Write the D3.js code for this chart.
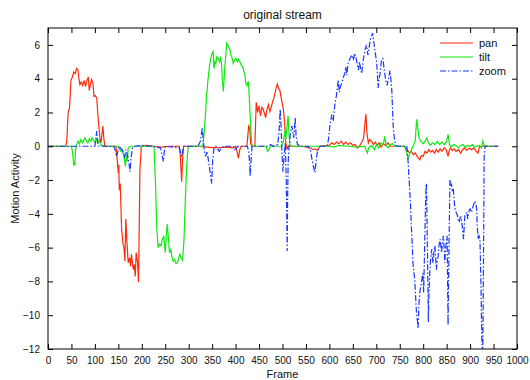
<!DOCTYPE html>
<html>
<head>
<meta charset="utf-8">
<script src="https://cdn.jsdelivr.net/npm/d3@7"></script>
<style>
  body { margin: 0; background: #fff; }
  text { font-family: "Liberation Sans", Arial, Helvetica, sans-serif; fill: #111; }
</style>
</head>
<body>
<div id="chart"></div>
<script>
// [frame, value] pairs
const pan = [
  [0,0],[38,0],[40,0.3],[43,2.0],[46,2.3],[49,3.9],[52,4.1],[55,4.4],[58,4.3],[61,4.6],[64,4.5],[66,4.0],
  [68,3.65],[71,3.8],[74,3.6],[77,3.9],[80,3.55],[83,3.9],[86,4.1],[88,3.3],[90,3.6],[93,3.95],[96,3.7],
  [98,2.95],[101,3.0],[104,2.85],[106,2.0],[108,1.3],[111,0.4],[113,0.2],[115,0.7],[117,1.2],[119,0.5],
  [121,0],[145,0],[147,-0.6],[150,-1.6],[151,-1.1],[152,-2.6],[154,-2.2],[157,-4.9],[160,-5.8],[162,-6.0],[164,-6.8],
  [166,-4.3],[168,-5.5],[171,-6.9],[174,-6.6],[176,-7.1],[178,-6.4],[180,-6.9],[182,-7.3],[184,-7.0],
  [186,-7.7],[188,-6.3],[191,-6.9],[193,-8.05],[196,-1.4],[199,0],[210,0.05],[225,0],[240,-0.05],[260,0],
  [280,0],[282,-0.5],[285,-2.1],[287,-0.8],[289,0],[320,0],[340,-0.05],[360,-0.1],[380,-0.05],[395,-0.1],
  [400,0],[403,-0.3],[406,-0.7],[409,-0.2],[412,0],[424,0],[426,0.6],[428,1.2],[430,1.1],[432,0.2],[434,0],
  [441,0],[444,2.6],[447,2.0],[450,2.4],[453,1.8],[456,2.3],[459,2.17],[462,1.9],[464,1.7],[467,2.2],[470,2.46],[473,2.05],[476,2.3],
  [479,2.66],[481,2.8],[484,3.15],[487,3.5],[489,3.68],[492,3.4],[494,3.35],[496,3.05],[499,2.6],[502,2.17],
  [505,1.18],[507,0.2],[510,-0.2],[512,0],[540,0],[560,-0.1],[565,-0.2],[570,-0.15],[575,-0.25],[580,0],
  [600,0.05],[605,0.2],[610,0.1],[615,0.25],[620,0.15],[625,0.3],[630,0.1],[635,0.25],[640,0.1],[645,0.2],
  [650,0.05],[655,0.1],[660,-0.1],[665,0.05],[670,0.3],[673,0.5],[676,1.4],[678,1.9],[680,0.8],[683,0.2],
  [686,0.4],[690,0.3],[694,0.1],[698,0.25],[702,0.05],[706,0.2],[710,-0.05],[715,0.15],[720,0.05],
  [725,0.2],[730,0],[760,0],[766,-0.2],[771,-0.4],[775,-0.3],[779,-0.5],[783,-0.4],[787,-0.6],[790,-0.7],
  [793,-0.8],[796,-0.55],[800,-0.6],[804,-0.3],[808,-0.4],[812,-0.2],[816,-0.35],[820,-0.25],[824,-0.4],
  [828,-0.2],[832,-0.35],[836,-0.15],[840,-0.3],[845,-0.1],[849,-0.2],[853,-0.6],[855,-0.3],[858,-0.1],
  [862,-0.25],[866,-0.15],[870,-0.3],[875,-0.2],[880,-0.4],[884,-0.2],[888,-0.1],[893,-0.25],[898,-0.1],
  [903,-0.2],[908,-0.1],[913,-0.3],[917,-0.4],[920,0],[960,0]
];
const tilt = [
  [0,0],[50,0],[52,-0.3],[55,-1.1],[57,-1.1],[59,-0.2],[61,0.1],[64,0.3],[67,0.15],[70,0.4],[73,0.2],
  [76,0.35],[79,0.5],[82,0.3],[85,0.2],[88,0.45],[91,0.3],[94,0.5],[97,0.35],[100,0.25],[103,0.4],
  [106,0.2],[109,0.35],[112,0.1],[115,0.05],[120,0],[150,0],[155,-0.3],[158,-0.2],[162,-0.6],[165,-1.2],
  [167,-0.5],[169,-0.9],[171,-0.1],[175,0],[226,0],[229,-2.0],[232,-4.9],[235,-6.0],[238,-5.8],[241,-5.9],
  [244,-5.5],[247,-5.3],[250,-6.3],[252,-5.4],[254,-4.6],[257,-5.5],[259,-6.3],[262,-6.1],[264,-6.5],
  [267,-6.8],[270,-6.7],[273,-6.95],[276,-6.9],[278,-6.7],[281,-6.4],[284,-6.6],[287,-6.75],[290,-5.5],
  [293,-3.0],[296,-1.0],[299,0],[330,0],[333,0.8],[336,2.0],[338,2.95],[341,3.9],[345,4.9],[348,5.3],
  [350,5.5],[352,5.6],[354,4.6],[356,5.0],[358,4.9],[360,5.3],[363,5.2],[366,5.0],[368,5.3],[370,4.9],
  [372,3.8],[374,3.25],[377,4.7],[379,5.3],[381,6.1],[383,6.0],[385,5.9],[388,5.7],[390,5.4],[392,5.3],
  [395,4.9],[398,5.1],[401,5.2],[404,5.0],[406,5.15],[409,5.0],[412,4.8],[415,4.7],[418,4.4],[420,4.2],
  [422,3.7],[424,3.6],[427,3.85],[429,3.0],[431,1.8],[434,0.2],[436,0],[465,0],[468,-0.3],[471,-0.2],
  [474,0],[498,0],[502,0.3],[505,0.9],[507,0.4],[509,1.0],[512,1.8],[514,0.6],[516,0.1],[518,0],
  [600,0],[610,-0.05],[620,0.05],[640,0],[660,-0.05],[675,0],[678,-0.2],[681,-0.4],[684,-0.1],[690,0.05],
  [696,-0.2],[700,0.1],[705,-0.1],[710,0.2],[715,0.1],[718,0.59],[721,0.05],[725,-0.1],[730,0.1],
  [735,0.15],[740,0],[760,0],[764,-0.3],[768,-0.7],[771,-0.45],[775,-0.2],[779,0.05],[783,0.3],[786,1.6],
  [788,1.2],[791,0.5],[795,0.3],[800,0.15],[804,0.3],[808,0.5],[811,0.2],[815,0.05],[820,0.2],[825,0.1],
  [830,0.3],[835,0.1],[840,0.25],[845,0.1],[850,0.3],[853,0.7],[856,0.1],[860,-0.05],[865,0.1],[870,0.05],
  [875,-0.1],[880,0.05],[885,0.1],[890,-0.05],[895,0.05],[900,0],[905,0.1],[910,-0.05],[915,0],
  [920,0.05],[924,-0.1],[927,0.3],[930,0.05],[935,0],[960,0]
];
const zoom = [
  [0,0],[100,0],[102,0.5],[104,0.9],[106,0.2],[108,0],[140,0],[143,-0.2],[146,-0.6],[149,-0.3],[152,0],
  [160,-0.3],[163,-0.7],[166,-0.2],[170,-0.6],[173,-1.1],[175,-1.5],[177,-0.7],[180,-0.1],[186,0],
  [200,0.05],[220,0],[240,-0.1],[243,-0.5],[246,-0.9],[248,-0.3],[250,0],[280,-0.1],[285,-0.6],
  [288,-0.2],[290,0],[320,0],[325,0.3],[329,1.1],[331,0.4],[333,-0.2],[336,-0.6],[339,-0.3],[342,-0.8],
  [345,-1.4],[349,-2.2],[351,-0.9],[354,-0.1],[358,0],[365,-0.3],[370,-0.1],[375,0],[395,0],[398,-0.2],
  [405,0],[425,0],[428,-0.3],[430,-1.0],[431,-1.77],[433,-0.8],[435,0],[470,0],[475,0.1],[480,0],
  [490,0.1],[493,1.0],[495,2.2],[497,1.2],[499,-0.5],[501,-1.5],[504,-0.4],[506,0.2],[508,-2.0],
  [509,-4.0],[510,-6.2],[511,-3.0],[512,-1.0],[514,0],[517,0.8],[520,1.2],[524,0.5],[527,1.7],[529,0.6],
  [532,0.1],[540,0],[555,0],[560,-0.3],[563,-0.8],[566,-1.2],[569,-1.56],[572,-0.8],[575,-0.2],[580,0],
  [595,0],[598,0.4],[601,1.2],[605,1.87],[608,1.5],[612,2.56],[615,3.0],[619,3.94],[621,3.2],[623,3.5],
  [627,3.8],[630,4.1],[633,4.33],[635,4.7],[637,4.2],[640,4.92],[644,5.2],[648,5.4],[651,5.1],[654,5.5],
  [657,5.2],[659,4.9],[662,4.5],[664,5.0],[666,4.7],[669,4.3],[672,5.1],[676,5.7],[679,6.0],[682,5.4],
  [685,5.9],[687,6.3],[690,6.5],[692,6.7],[695,6.1],[698,5.5],[701,4.9],[704,3.45],[706,4.0],[708,4.3],
  [711,5.1],[714,5.2],[717,4.5],[720,3.9],[723,3.6],[725,3.9],[727,4.1],[729,4.5],[731,4.0],[733,3.35],
  [736,1.18],[738,0.6],[740,0.2],[743,0],[765,0],[768,-1.0],[770,-1.97],[773,-3.5],[775,-4.9],[777,-6.0],
  [778,-6.9],[780,-7.4],[782,-7.9],[784,-9.0],[786,-10.0],[788,-10.4],[789,-10.8],[791,-9.3],[793,-8.6],
  [795,-8.26],[797,-7.9],[799,-7.5],[801,-8.65],[803,-6.0],[805,-3.5],[806,-2.36],[807,-2.2],[809,-6.0],
  [811,-10.4],[812,-9.0],[814,-7.5],[816,-6.6],[818,-6.1],[820,-6.7],[821,-6.9],[823,-6.2],[825,-5.9],
  [827,-6.8],[828,-7.3],[830,-6.8],[832,-6.5],[834,-5.8],[836,-5.5],[838,-6.0],[839,-6.3],[841,-5.7],
  [843,-5.3],[845,-6.2],[846,-6.9],[848,-6.0],[851,-5.3],[852,-8.0],[853,-10.6],[855,-6.0],[857,-1.97],
  [859,-2.3],[860,-2.2],[862,-2.6],[864,-2.5],[866,-3.2],[868,-3.74],[870,-3.9],[873,-4.1],[875,-4.4],
  [877,-4.5],[879,-4.2],[881,-4.2],[883,-4.7],[886,-5.5],[888,-4.5],[889,-4.1],[891,-4.0],[893,-3.9],
  [895,-4.3],[896,-4.1],[898,-3.8],[900,-3.7],[903,-3.9],[906,-3.6],[908,-3.4],[910,-3.25],[912,-3.4],
  [914,-3.7],[915,-4.6],[917,-5.5],[919,-5.3],[921,-5.5],[923,-8.0],[925,-11.4],[927,-12.5],[929,-5.0],
  [930,-0.6],[932,0],[960,0]
];
const seriesNames = ["pan", "tilt", "zoom"];
const xTicks = d3.range(0, 1001, 50);
const yTicks = d3.range(-12, 7, 2);

const W = 530, H = 380;
const mLeft = 48, mRight = 517, mTop = 28, mBottom = 349;

const svg = d3.select("#chart").append("svg").attr("width", W).attr("height", H);

const x = d3.scaleLinear().domain([0, 1000]).range([mLeft, mRight]);
const y = d3.scaleLinear().domain([-12, 7]).range([mBottom, mTop]);

svg.append("defs").append("clipPath").attr("id", "clip")
  .append("rect").attr("x", mLeft).attr("y", mTop).attr("width", mRight - mLeft).attr("height", mBottom - mTop);

// lines
const styles = {
  pan: { color: "#ff2a0a", dash: null },
  tilt: { color: "#10ea10", dash: null },
  zoom: { color: "#1836ff", dash: "6,2,1.5,2" }
};
const dataBy = { pan: pan, tilt: tilt, zoom: zoom };
const line = d3.line().x(d => x(d[0])).y(d => y(d[1]));

const plot = svg.append("g").attr("clip-path", "url(#clip)");
seriesNames.forEach(name => {
  plot.append("path")
    .datum(dataBy[name])
    .attr("d", line)
    .attr("fill", "none")
    .attr("stroke", styles[name].color)
    .attr("stroke-width", 1.2)
    .attr("stroke-dasharray", styles[name].dash);
});

// axes (ticks inside, mirrored on top and right)
const tickLen = 5;
const axG = svg.append("g").attr("font-size", 11);

axG.append("g").attr("transform", "translate(0," + mBottom + ")")
  .call(d3.axisBottom(x).tickValues(xTicks).tickSize(-tickLen).tickPadding(8).tickFormat(d3.format("d")))
  .call(g => g.select(".domain").remove());
axG.append("g").attr("transform", "translate(0," + mTop + ")")
  .call(d3.axisTop(x).tickValues(xTicks).tickSize(-tickLen).tickFormat(""))
  .call(g => g.select(".domain").remove());
axG.append("g").attr("transform", "translate(" + mLeft + ",0)")
  .call(d3.axisLeft(y).tickValues(yTicks).tickSize(-tickLen).tickPadding(8))
  .call(g => g.select(".domain").remove());
axG.append("g").attr("transform", "translate(" + mRight + ",0)")
  .call(d3.axisRight(y).tickValues(yTicks).tickSize(-tickLen).tickFormat(""))
  .call(g => g.select(".domain").remove());

axG.selectAll("text").attr("font-family", "Liberation Sans, Arial, sans-serif").attr("fill", "#111");
axG.selectAll("line").attr("stroke", "#000");

svg.append("rect")
  .attr("x", mLeft).attr("y", mTop).attr("width", mRight - mLeft).attr("height", mBottom - mTop)
  .attr("fill", "none").attr("stroke", "#000").attr("stroke-width", 1);

// titles
svg.append("text").attr("x", (mLeft + mRight) / 2).attr("y", 19).attr("text-anchor", "middle")
  .attr("font-size", 12).text("original stream");
svg.append("text").attr("x", (mLeft + mRight) / 2).attr("y", 378).attr("text-anchor", "middle")
  .attr("font-size", 11).text("Frame");
svg.append("text").attr("transform", "translate(19," + ((mTop + mBottom) / 2) + ") rotate(-90)")
  .attr("text-anchor", "middle").attr("font-size", 11).text("Motion Activity");

// legend (no box)
const leg = svg.append("g");
seriesNames.forEach((name, i) => {
  const ly = 43 + i * 14;
  leg.append("line").attr("x1", 440).attr("x2", 473).attr("y1", ly).attr("y2", ly)
    .attr("stroke", styles[name].color).attr("stroke-width", 1.2)
    .attr("stroke-dasharray", styles[name].dash);
  leg.append("text").attr("x", 479).attr("y", ly + 4).attr("font-size", 11).text(name);
});
</script>
</body>
</html>
